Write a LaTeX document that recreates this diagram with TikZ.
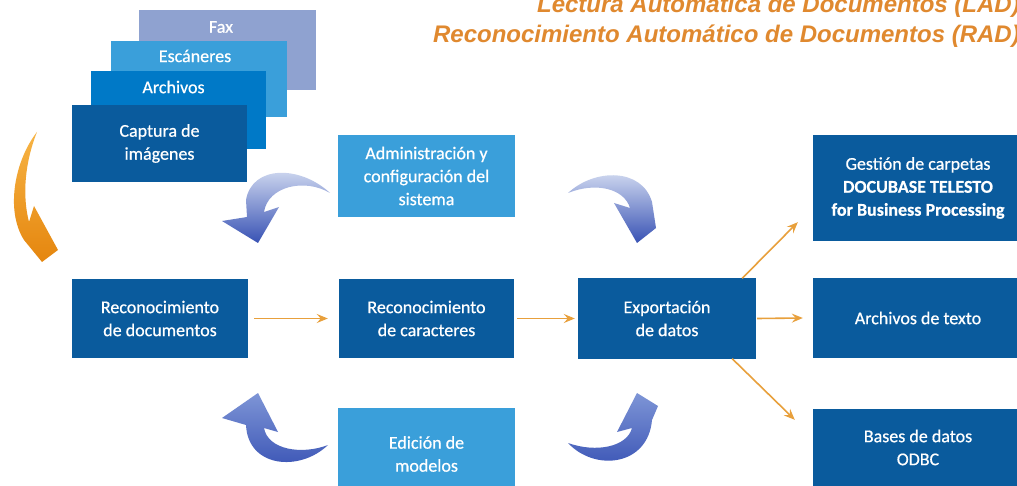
\documentclass[tikz,border=0pt]{standalone}
\usepackage{fontspec}
\setmainfont{Carlito}
\newfontfamily\boxfont[FakeBold=0.6]{Carlito}
\newfontfamily\titlefont{Liberation Sans}
\usetikzlibrary{arrows.meta}
\definecolor{dblue}{HTML}{0A5B9D}
\definecolor{mblue}{HTML}{0079C7}
\definecolor{lblue}{HTML}{3A9FDA}
\definecolor{fblue}{HTML}{8FA2D0}
\definecolor{ttl}{HTML}{E0892F}
\definecolor{oline}{HTML}{E8A03C}
\definecolor{arrdark}{HTML}{3852B4}
\definecolor{arrlight}{HTML}{D8E0F3}
\definecolor{arrmid}{HTML}{7E95D6}
\definecolor{orlight}{HTML}{F7B445}
\definecolor{ordark}{HTML}{E5860E}
\tikzset{
  box/.style={rectangle, inner sep=0pt, text=white, align=center,
    font=\boxfont\fontsize{18}{23}\selectfont},
  txt/.style={inner sep=0pt, text=white, align=center,
    font=\boxfont\fontsize{18}{23}\selectfont},
  ttlstyle/.style={inner sep=0pt, anchor=base east, text=ttl,
    font=\titlefont\bfseries\itshape\fontsize{24}{30}\selectfont},
  oarrow/.style={draw=oline, line width=1.6pt,
    -{Stealth[length=11pt,width=9pt,inset=4pt]}},
  bluearrow/.style={top color=arrlight, bottom color=arrdark, draw=none},
  bluearrowup/.style={top color=arrmid, middle color=arrlight, bottom color=arrdark, draw=none},
  orarrow/.style={top color=orlight, bottom color=ordark, draw=none}
}
\begin{document}
\begin{tikzpicture}[x=1pt,y=-1pt]
\useasboundingbox (0,0) rectangle (1017,486);
\fill[white] (0,0) rectangle (1017,486);
\clip (0,0) rectangle (1017,486);

% title
\node[ttlstyle] (t1) at (1020,13) {Lectura Automática de Documentos (LAD)};
\node[ttlstyle] (t2) at (1020,43) {Reconocimiento Automático de Documentos (RAD)};

% stacked input boxes
\node[box, fill=fblue, minimum width=177pt, minimum height=80pt] (fax) at (227.5,50) {};
\node[txt] (faxt) at (221,27) {Fax};
\node[box, fill=lblue, minimum width=176pt, minimum height=76pt] (esc) at (199,79) {};
\node[txt] (esct) at (195,56) {Escáneres};
\node[box, fill=mblue, minimum width=175pt, minimum height=78pt] (arc) at (178.5,110) {};
\node[txt] (arct) at (173.5,87) {Archivos};
\node[box, fill=dblue, minimum width=175pt, minimum height=77pt] (cap) at (159.5,143.5) {Captura de\\imágenes};

% upper / lower light boxes
\node[box, fill=lblue, minimum width=177pt, minimum height=82pt] (adm) at (426.5,176) {Administración y\\configuración del\\sistema};
\node[box, fill=lblue, minimum width=177pt, minimum height=92pt] (edi) at (426.5,454) {Edición de\\modelos};

% middle row
\node[box, fill=dblue, minimum width=176pt, minimum height=79pt] (rd) at (160,318.5) {Reconocimiento\\de documentos};
\node[box, fill=dblue, minimum width=175pt, minimum height=79pt] (rc) at (426.5,318.5) {Reconocimiento\\de caracteres};
\node[box, fill=dblue, minimum width=178pt, minimum height=80pt] (exp) at (667,318.5) {Exportación\\de datos};

% right column
\node[box, fill=dblue, minimum width=210pt, minimum height=106pt] (g) at (918,188) {Gestión de carpetas\\\textbf{DOCUBASE TELESTO}\\\textbf{for Business Processing}};
\node[box, fill=dblue, minimum width=210pt, minimum height=80pt] (at) at (918,318) {Archivos de texto};
\node[box, fill=dblue, minimum width=210pt, minimum height=77pt] (b) at (918,447.5) {Bases de datos\\ODBC};

% straight orange connectors
\draw[oarrow] ([xshift=6pt]rd.east) -- ([xshift=-11pt]rc.west);
\draw[oarrow] ([xshift=3pt]rc.east) -- ([xshift=-3pt]exp.west);
\draw[oarrow] ([xshift=1pt]exp.east) -- ([xshift=-10pt]at.west);
\draw[oarrow] ([xshift=-14pt]exp.north east) -- ([xshift=-15pt,yshift=19pt]g.south west);
\draw[oarrow] ([xshift=-24pt]exp.south east) -- ([xshift=-18pt,yshift=-11pt]b.north west);

% big orange curved arrow (left)
\shade[orarrow] (37,132) .. controls (15,160) and (5,210) .. (24,240)
  -- (42,262) -- (58,250) -- (34,206) -- (29,222)
  .. controls (22,195) and (25,162) .. cycle;

% blue curved arrows
% top-left
\shade[bluearrow] (330,193) .. controls (300,165) and (252,165) .. (246,200)
  -- (247,217) -- (222,221) -- (258,243) -- (279,207) -- (264,212)
  .. controls (268,186) and (305,178) .. cycle;
% top-right
\shade[bluearrow] (568,193) .. controls (595,168) and (642,168) .. (652,202)
  -- (656,228) -- (637,243) -- (614,203) -- (630,208)
  .. controls (624,188) and (595,182) .. cycle;
% bottom-left
\shade[bluearrowup] (328,445) .. controls (300,472) and (248,468) .. (246,425)
  -- (222,418) -- (258,393) -- (278,432) -- (264,428)
  .. controls (268,450) and (302,455) .. cycle;
% bottom-right
\shade[bluearrowup] (568,443) .. controls (595,472) and (648,466) .. (652,420)
  -- (658,406) -- (637,393) -- (617,432) -- (632,428)
  .. controls (627,447) and (596,453) .. cycle;
\end{tikzpicture}
\end{document}
